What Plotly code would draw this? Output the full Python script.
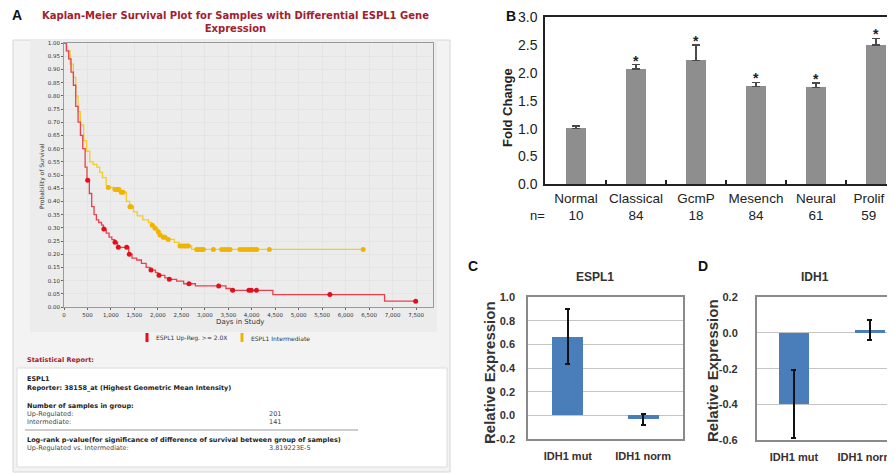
import numpy as np
import plotly.graph_objects as go

# The page body has an 8px default margin: the figure is sized so that it ends
# exactly at the window edge, and all reference pixel positions are shifted by 8.
OFF = 8
W, H = 895 - OFF, 474 - OFF


def px(x):
    return (x - OFF) / W


def py(y):
    return 1 - (y - OFF) / H


# ---------------- Panel A : Kaplan-Meier data ----------------
red_times = [0, 50, 100, 150, 200, 250, 300, 350, 400, 450, 490, 540, 590, 640, 690, 740, 800, 840,
             900, 960, 1020, 1080, 1140, 1380, 1450, 1550, 1650, 1750, 1830, 1950, 2000, 2150, 2230,
             2400, 2550, 2800, 3450, 3550, 4450, 6830]
red_surv = [1.0, 0.97, 0.94, 0.89, 0.84, 0.76, 0.70, 0.65, 0.60, 0.53, 0.48, 0.43, 0.38, 0.35, 0.33,
            0.32, 0.31, 0.295, 0.28, 0.265, 0.255, 0.245, 0.226, 0.20, 0.185, 0.178, 0.165, 0.15, 0.14,
            0.13, 0.12, 0.11, 0.105, 0.098, 0.088, 0.08, 0.07, 0.063, 0.047, 0.022]
red_censor = [505, 850, 1087, 1158, 1336, 1392, 1854, 2024, 2245, 2664, 3296, 3594, 3940, 3990, 4100,
              5665, 7493]

yel_times = [0, 60, 130, 200, 250, 300, 350, 420, 480, 550, 620, 700, 760, 820, 900, 940, 1050, 1200,
             1330, 1400, 1480, 1560, 1680, 1800, 1870, 1930, 2000, 2040, 2110, 2200, 2350, 2450, 2720]
yel_surv = [1.0, 0.97, 0.92, 0.87, 0.80, 0.74, 0.69, 0.63, 0.59, 0.55, 0.54, 0.53, 0.51, 0.49, 0.46,
            0.453, 0.445, 0.435, 0.40, 0.38, 0.36, 0.345, 0.33, 0.32, 0.31, 0.298, 0.285, 0.273,
            0.264, 0.256, 0.245, 0.231, 0.218]
yel_censor = [945, 1087, 1130, 1170, 1220, 1257, 1406, 1430, 1880, 1939, 2010, 2046, 2116, 2152, 2222,
              2472, 2520, 2570, 2614, 2650, 2827, 2870, 2920, 2969, 3182, 3360, 3420, 3480, 3537,
              3750, 3820, 3880, 3940, 4000, 4050, 4106, 4375, 6375]

km_ytick_vals = [round(0.05 * i, 2) for i in range(21)]

# ---------------- Panel B : fold change ----------------
b_categories = ["Normal", "Classical", "GcmP", "Mesench", "Neural", "Prolif"]
b_n = [10, 84, 18, 84, 61, 59]
b_values = [1.00, 2.07, 2.22, 1.76, 1.74, 2.50]
b_err = [0.05, 0.08, 0.28, 0.07, 0.08, 0.12]
b_sig = [False, True, True, True, True, True]

# ---------------- Panels C / D ----------------
cd_categories = ["IDH1 mut", "IDH1 norm"]
c_values = [0.665, -0.035]
c_err = [0.23, 0.05]
d_values = [-0.40, 0.015]
d_err = [0.19, 0.055]
c_yticks = [-0.2, 0.0, 0.2, 0.4, 0.6, 0.8, 1.0]
d_yticks = [-0.6, -0.4, -0.2, 0.0, 0.2]


def step_value(times, surv, t):
    idx = np.searchsorted(np.array(times), t, side="right") - 1
    return float(np.array(surv)[idx])


def fmt(v):
    return f"{v:.1f}"


RED_LINE = "#e8404c"
RED_MK = "#e0101c"
YEL_LINE = "#f3cc2a"
YEL_MK = "#f0b400"
BLUE = "#4a7ebb"

fig = go.Figure()

# KM curves
for times, surv, cens, lc, mc in [
    (yel_times, yel_surv, yel_censor, YEL_LINE, YEL_MK),
    (red_times, red_surv, red_censor, RED_LINE, RED_MK),
]:
    xs = list(times) + [max(cens)]
    ys = list(surv) + [surv[-1]]
    fig.add_trace(go.Scatter(x=xs, y=ys, mode="lines", line=dict(color=lc, width=1.3, shape="hv"),
                             xaxis="x", yaxis="y", hoverinfo="skip", cliponaxis=False))
    cy = [step_value(times, surv, t) for t in cens]
    fig.add_trace(go.Scatter(x=cens, y=cy, mode="markers", marker=dict(color=mc, size=5),
                             xaxis="x", yaxis="y", cliponaxis=False))

# Panel B bars
bx = list(range(len(b_categories)))
fig.add_trace(go.Bar(x=bx, y=b_values, width=0.33, marker=dict(color="#8e8e8e", line=dict(width=0)),
                     error_y=dict(type="data", array=b_err, arrayminus=[0] * len(b_err), color="#4a4a4a",
                                  thickness=1.5, width=4),
                     xaxis="x2", yaxis="y2"))
# label positions: the last label is nudged left so it stays inside the page
b_label_pos = bx[:-1] + [bx[-1] - 0.12]
d_label_pos = [0, 1 - 0.06]

# Panel C
fig.add_trace(go.Bar(x=[0, 1], y=c_values, width=0.41, marker=dict(color=BLUE, line=dict(width=0)),
                     error_y=dict(type="data", array=c_err, color="#111", thickness=2, width=2.5),
                     xaxis="x3", yaxis="y3"))
# Panel D
fig.add_trace(go.Bar(x=[0, 1], y=d_values, width=0.39, marker=dict(color=BLUE, line=dict(width=0)),
                     error_y=dict(type="data", array=d_err, color="#111", thickness=2, width=2.5),
                     xaxis="x4", yaxis="y4", cliponaxis=False))

annotations = []
shapes = []


def note(text, x, y, size, color="#222", family="Liberation Sans", xanchor="center", angle=0):
    annotations.append(dict(text=text, x=px(x), y=py(y), xref="paper", yref="paper", showarrow=False,
                            xanchor=xanchor, yanchor="middle", textangle=angle, align="center",
                            font=dict(family=family, size=size, color=color)))


# ---- Panel A decoration ----
shapes.append(dict(type="rect", xref="paper", yref="paper", x0=px(13), x1=px(450), y0=py(472), y1=py(40),
                   fillcolor="#f3f3f3", line=dict(color="#d6d6d6", width=1), layer="below"))
shapes.append(dict(type="rect", xref="paper", yref="paper", x0=px(30), x1=px(437), y0=py(332), y1=py(40),
                   fillcolor="#ececec", line=dict(width=0), layer="below"))
shapes.append(dict(type="rect", xref="paper", yref="paper", x0=px(17), x1=px(447), y0=py(467), y1=py(368),
                   fillcolor="#ffffff", line=dict(color="#dcdcdc", width=1), layer="below"))
shapes.append(dict(type="line", xref="paper", yref="paper", x0=px(25), x1=px(358), y0=py(430), y1=py(430),
                   line=dict(color="#9a9a9a", width=1)))

note("<b>A</b>", 10, 15, 14, "#111", xanchor="left")
note("<b>Kaplan-Meier Survival Plot for Samples with Differential ESPL1 Gene<br>Expression</b>", 236, 22, 10,
     "#a3202c", family="DejaVu Sans")
note("Probability of Survival", 42, 176, 6, "#333", family="DejaVu Sans", angle=-90)
note("Days in Study", 240, 322, 7, "#333", family="DejaVu Sans")
# legend
shapes.append(dict(type="rect", xref="paper", yref="paper", x0=px(145.5), x1=px(148.5), y0=py(342), y1=py(333),
                   fillcolor=RED_MK, line=dict(width=0)))
shapes.append(dict(type="rect", xref="paper", yref="paper", x0=px(240.5), x1=px(243.5), y0=py(342), y1=py(333),
                   fillcolor=YEL_MK, line=dict(width=0)))
note("ESPL1 Up-Reg. >= 2.0X", 154, 338, 6, "#333", family="DejaVu Sans", xanchor="left")
note("ESPL1 Intermediate", 249, 338, 6, "#333", family="DejaVu Sans", xanchor="left")

stat_lines = [
    ("<b>Statistical Report:</b>", 25, 360, "#a3202c"),
    ("<b>ESPL1</b>", 25, 379, "#222"),
    ("<b>Reporter: 38158_at (Highest Geometric Mean Intensity)</b>", 25, 388, "#222"),
    ("<b>Number of samples in group:</b>", 25, 406, "#222"),
    ("Up-Regulated:", 25, 414, "#444"),
    ("201", 267, 414, "#444"),
    ("Intermediate:", 25, 422, "#444"),
    ("141", 267, 422, "#444"),
    ("<b>Log-rank p-value(for significance of difference of survival between group of samples)</b>", 25, 440, "#222"),
    ("Up-Regulated vs. Intermediate:", 25, 448, "#444"),
    ("3.819223E-5", 267, 448, "#444"),
]
for t, x, y, c in stat_lines:
    note(t, x, y, 6.5, c, family="DejaVu Sans", xanchor="left")

# ---- Panel B decoration ----
note("<b>B</b>", 504, 16, 14, "#111", xanchor="left")
note("<b>Fold Change</b>", 508, 107, 13, "#222", angle=-90)
note("n=", 537, 215, 13, "#222")
for i, (v, e, s) in enumerate(zip(b_values, b_err, b_sig)):
    if s:
        annotations.append(dict(text="<b>*</b>", x=i, y=v + e, xref="x2", yref="y2", showarrow=False,
                                xanchor="center", yanchor="bottom", yshift=-6,
                                font=dict(family="Liberation Sans", size=14, color="#222")))

# ---- Panels C / D decoration ----
note("<b>C</b>", 473, 266, 14, "#111")
note("<b>D</b>", 703, 266, 14, "#111")
note("<b>ESPL1</b>", 595, 277, 12, "#333")
note("<b>IDH1</b>", 815, 277, 12, "#333")
note("<b>Relative Expression</b>", 489, 372, 15, "#333", angle=-90)
note("<b>Relative Expression</b>", 712, 371, 15, "#333", angle=-90)

ax_km = dict(showgrid=True, gridcolor="#e4e4e4", gridwidth=1, zeroline=False, showline=True, linecolor="#9a9a9a",
             linewidth=1, mirror=True, ticks="outside", ticklen=2, tickcolor="#666", automargin=False,
             tickfont=dict(family="DejaVu Sans", size=5.5, color="#333"))

fig.update_layout(
    width=W, height=H, margin=dict(l=0, r=0, t=0, b=0, autoexpand=False), paper_bgcolor="white",
    plot_bgcolor="white", showlegend=False, bargap=0,
    xaxis=dict(domain=[px(64), px(433)], range=[0, 7862], dtick=500, tick0=0, tickformat=",", anchor="y", **ax_km),
    yaxis=dict(domain=[py(307), py(43)], range=[0, 1], tickvals=km_ytick_vals, tickformat=".2f", anchor="x", **ax_km),
    xaxis2=dict(domain=[px(545), 1], range=[-0.517, 5.317], anchor="y2", tickvals=b_label_pos, automargin=False,
                ticktext=[f"{c}<br>{n}" for c, n in zip(b_categories, b_n)], showgrid=False, zeroline=False,
                showline=True, linecolor="#222", linewidth=2, mirror=True, ticks="", ticklabeloverflow="allow",
                minor=dict(tickvals=[i + 0.5 for i in bx[:-1]], ticks="inside", ticklen=4, tickwidth=2,
                           tickcolor="#222", showgrid=False),
                tickfont=dict(family="Liberation Sans", size=13.5, color="#222")),
    yaxis2=dict(domain=[py(184.3), py(17.3)], range=[0, 3], dtick=0.5, tickformat=".1f", anchor="x2",
                automargin=False, showgrid=False, zeroline=False, showline=True, linecolor="#222", linewidth=1.5,
                ticks="", ticklabelstandoff=3, tickfont=dict(family="Liberation Sans", size=14, color="#222")),
    xaxis3=dict(domain=[px(528), px(683)], range=[-0.53, 1.53], anchor="y3", tickvals=[0, 1], ticktext=cd_categories,
                automargin=False, showgrid=False, zeroline=False, showline=True, linecolor="#8a8a8a", linewidth=1.5,
                mirror=True, ticks="", ticklabelstandoff=6,
                tickfont=dict(family="Liberation Sans", size=11, color="#3a2e2e", weight="bold")),
    yaxis3=dict(domain=[py(439), py(297)], range=[-0.2, 1.0], tickvals=c_yticks, ticktext=[fmt(v) for v in c_yticks],
                anchor="x3", automargin=False, showgrid=True, gridcolor="#c4c4c4", gridwidth=1, zeroline=False,
                showline=True, linecolor="#8a8a8a", linewidth=1.5, mirror=True, ticks="", ticklabelstandoff=9,
                tickfont=dict(family="Liberation Sans", size=11, color="#333", weight="bold")),
    xaxis4=dict(domain=[px(756.7), 1], range=[-0.49, 1.33], anchor="y4", tickvals=d_label_pos, ticktext=cd_categories,
                automargin=False, showgrid=False, zeroline=False, showline=True, linecolor="#8a8a8a", linewidth=1.5,
                mirror=True, ticks="", ticklabelstandoff=6, ticklabeloverflow="allow",
                tickfont=dict(family="Liberation Sans", size=11, color="#3a2e2e", weight="bold")),
    yaxis4=dict(domain=[py(440), py(297.3)], range=[-0.6, 0.2], tickvals=d_yticks, ticktext=[fmt(v) for v in d_yticks],
                anchor="x4", automargin=False, showgrid=True, gridcolor="#c4c4c4", gridwidth=1, zeroline=False,
                showline=True, linecolor="#8a8a8a", linewidth=1.5, ticks="", ticklabelstandoff=15,
                tickfont=dict(family="Liberation Sans", size=11, color="#333", weight="bold")),
    annotations=annotations,
    shapes=shapes,
)

fig.write_html("out.html")
